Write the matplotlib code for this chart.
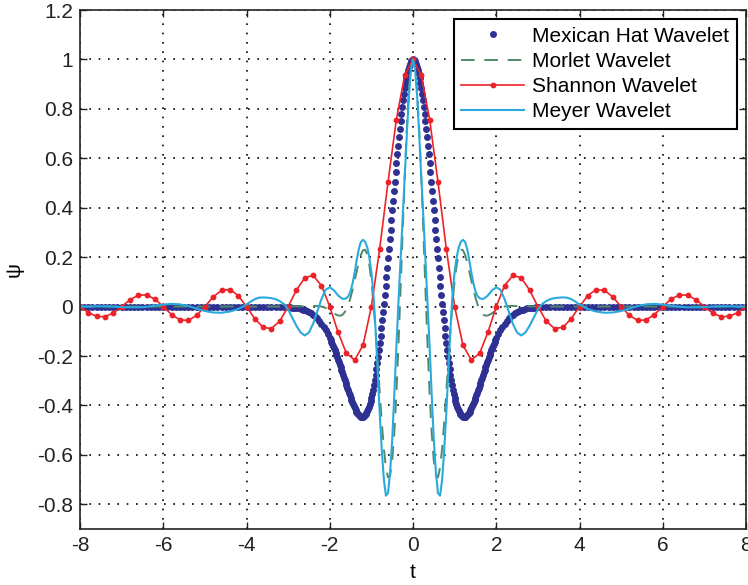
import numpy as np
import matplotlib
matplotlib.use("Agg")
import matplotlib.pyplot as plt

plt.rcParams["font.family"] = ["Liberation Sans", "DejaVu Sans"]
plt.rcParams["axes.unicode_minus"] = False

# === Data ===

# Mexican hat: sample grid and values
mexhat_t = np.concatenate([
    np.linspace(-8, -3.1, 50), np.linspace(-3, -2.05, 20), np.linspace(-2, 2, 201),
    np.linspace(2.05, 3, 20), np.linspace(3.1, 8, 50),
])
mexhat_psi = [
    0.0, 0.0, 0.0, 0.0, 0.0, 0.0, 0.0, 0.0, 0.0, 0.0,
    0.0, 0.0, 0.0, 0.0, 0.0, 0.0, 0.0, 0.0, 0.0, 0.0,
    0.0, 0.0, 0.0, 0.0, 0.0, 0.0, 0.0, 0.0, 0.0, 0.0,
    0.0, 0.0, 0.0, 0.0, 0.0, 0.0, 0.0, 0.0, 0.0, 0.0,
    0.0, 0.0, 0.0, 0.0, 0.0, 0.0, 0.0, 0.0, -0.001, -0.001,
    -0.002, -0.003, -0.004, -0.005, -0.006, -0.007, -0.009, -0.012, -0.015, -0.018,
    -0.022, -0.027, -0.033, -0.040, -0.048, -0.058, -0.069, -0.081, -0.095, -0.111,
    -0.128, -0.136, -0.143, -0.151, -0.160, -0.168, -0.177, -0.186, -0.195, -0.205,
    -0.215, -0.225, -0.235, -0.245, -0.255, -0.266, -0.276, -0.287, -0.297, -0.308,
    -0.319, -0.329, -0.339, -0.349, -0.359, -0.369, -0.378, -0.387, -0.396, -0.404,
    -0.411, -0.418, -0.425, -0.430, -0.435, -0.439, -0.442, -0.445, -0.446, -0.446,
    -0.445, -0.444, -0.440, -0.436, -0.430, -0.423, -0.415, -0.406, -0.394, -0.382,
    -0.368, -0.352, -0.336, -0.317, -0.297, -0.276, -0.253, -0.229, -0.203, -0.176,
    -0.148, -0.118, -0.087, -0.055, -0.022, 0.012, 0.047, 0.083, 0.120, 0.157,
    0.195, 0.234, 0.272, 0.311, 0.350, 0.389, 0.428, 0.467, 0.505, 0.543,
    0.580, 0.616, 0.651, 0.685, 0.718, 0.749, 0.780, 0.808, 0.835, 0.861,
    0.884, 0.905, 0.925, 0.942, 0.957, 0.970, 0.981, 0.989, 0.995, 0.999,
    1.000,
    0.999, 0.995, 0.989, 0.981, 0.970, 0.957, 0.942, 0.925, 0.905, 0.884,
    0.861, 0.835, 0.808, 0.780, 0.749, 0.718, 0.685, 0.651, 0.616, 0.580,
    0.543, 0.505, 0.467, 0.428, 0.389, 0.350, 0.311, 0.272, 0.234, 0.195,
    0.157, 0.120, 0.083, 0.047, 0.012, -0.022, -0.055, -0.087, -0.118, -0.148,
    -0.176, -0.203, -0.229, -0.253, -0.276, -0.297, -0.317, -0.336, -0.352, -0.368,
    -0.382, -0.394, -0.406, -0.415, -0.423, -0.430, -0.436, -0.440, -0.444, -0.445,
    -0.446, -0.446, -0.445, -0.442, -0.439, -0.435, -0.430, -0.425, -0.418, -0.411,
    -0.404, -0.396, -0.387, -0.378, -0.369, -0.359, -0.349, -0.339, -0.329, -0.319,
    -0.308, -0.297, -0.287, -0.276, -0.266, -0.255, -0.245, -0.235, -0.225, -0.215,
    -0.205, -0.195, -0.186, -0.177, -0.168, -0.160, -0.151, -0.143, -0.136, -0.128,
    -0.111, -0.095, -0.081, -0.069, -0.058, -0.048, -0.040, -0.033, -0.027, -0.022,
    -0.018, -0.015, -0.012, -0.009, -0.007, -0.006, -0.005, -0.004, -0.003, -0.002,
    -0.001, -0.001, 0.0, 0.0, 0.0, 0.0, 0.0, 0.0, 0.0, 0.0,
    0.0, 0.0, 0.0, 0.0, 0.0, 0.0, 0.0, 0.0, 0.0, 0.0,
    0.0, 0.0, 0.0, 0.0, 0.0, 0.0, 0.0, 0.0, 0.0, 0.0,
    0.0, 0.0, 0.0, 0.0, 0.0, 0.0, 0.0, 0.0, 0.0, 0.0,
    0.0, 0.0, 0.0, 0.0, 0.0, 0.0, 0.0, 0.0, 0.0, 0.0,
]

# Morlet
morlet_t = np.concatenate([
    np.linspace(-8, -2.5, 12), np.linspace(-2.45, 2.45, 99), np.linspace(2.5, 8, 12),
])
morlet_psi = [
    0.0, 0.0, 0.0, 0.0, 0.0, 0.0, 0.0, 0.0, 0.0, 0.0, 0.0, 0.002,
    0.002, 0.003, 0.003, 0.002, 0.002, 0.000, -0.002, -0.006, -0.010,
    -0.015, -0.021, -0.027, -0.032, -0.036, -0.037, -0.034, -0.025, -0.011, 0.009,
    0.037, 0.069, 0.106, 0.144, 0.180, 0.210, 0.228, 0.230, 0.211, 0.170,
    0.104, 0.015, -0.094, -0.217, -0.345, -0.468, -0.574, -0.652, -0.691, -0.683,
    -0.624, -0.513, -0.355, -0.158, 0.065, 0.296, 0.519, 0.716, 0.869, 0.967,
    1.000,
    0.967, 0.869, 0.716, 0.519, 0.296, 0.065, -0.158, -0.355, -0.513, -0.624,
    -0.683, -0.691, -0.652, -0.574, -0.468, -0.345, -0.217, -0.094, 0.015, 0.104,
    0.170, 0.211, 0.230, 0.228, 0.210, 0.180, 0.144, 0.106, 0.069, 0.037,
    0.009, -0.011, -0.025, -0.034, -0.037, -0.036, -0.032, -0.027, -0.021, -0.015,
    -0.010, -0.006, -0.002, 0.000, 0.002, 0.002, 0.003, 0.003, 0.002,
    0.002, 0.0, 0.0, 0.0, 0.0, 0.0, 0.0, 0.0, 0.0, 0.0, 0.0, 0.0,
]

# Shannon (markers every 0.2)
shannon_t = np.linspace(-8, 8, 81)
shannon_psi = [
    0.0, -0.0240, -0.0398, -0.0409, -0.0260, 0.0, 0.0275, 0.0459, 0.0473, 0.0302,
    0.0, -0.0323, -0.0541, -0.0561, -0.0360, 0.0, 0.0390, 0.0658, 0.0688, 0.0445,
    0.0, -0.0492, -0.0841, -0.0890, -0.0585, 0.0, 0.0668, 0.1164, 0.1261, 0.0850,
    0.0, -0.1039, -0.1892, -0.2162, -0.1559, 0.0, 0.2339, 0.5046, 0.7568, 0.9355,
    1.0,
    0.9355, 0.7568, 0.5046, 0.2339, 0.0, -0.1559, -0.2162, -0.1892, -0.1039, 0.0,
    0.0850, 0.1261, 0.1164, 0.0668, 0.0, -0.0585, -0.0890, -0.0841, -0.0492, 0.0,
    0.0445, 0.0688, 0.0658, 0.0390, 0.0, -0.0360, -0.0561, -0.0541, -0.0323, 0.0,
    0.0302, 0.0473, 0.0459, 0.0275, 0.0, -0.0260, -0.0409, -0.0398, -0.0240, 0.0,
]

# Meyer
meyer_t = np.concatenate([
    np.linspace(-8, -4.2, 20), np.linspace(-4.0, -1.7, 24), np.linspace(-1.65, 1.65, 67),
    np.linspace(1.7, 4.0, 24), np.linspace(4.2, 8, 20),
])
meyer_psi = [
    0.000, 0.000, 0.001, 0.001, 0.000, -0.002, -0.003, -0.003, -0.001, 0.003,
    0.008, 0.011, 0.009, 0.002, -0.008, -0.018, -0.024, -0.025, -0.020, -0.010,
    0.008, 0.020, 0.030, 0.036, 0.037, 0.036, 0.034, 0.030, 0.022, 0.010,
    -0.012, -0.045, -0.078, -0.105, -0.117, -0.105, -0.070, -0.020, 0.030, 0.068,
    0.078, 0.066, 0.045, 0.032,
    0.031, 0.034, 0.043,
    0.062, 0.095, 0.140, 0.190, 0.235, 0.262, 0.270, 0.262, 0.240, 0.200,
    0.140, 0.050, -0.090, -0.260, -0.430, -0.580, -0.700, -0.765, -0.755, -0.670,
    -0.540, -0.360, -0.165, 0.015, 0.185, 0.360, 0.520, 0.690, 0.850, 0.960,
    1.000,
    0.960, 0.850, 0.690, 0.520, 0.360, 0.185, 0.015, -0.165, -0.360, -0.540,
    -0.670, -0.755, -0.765, -0.700, -0.580, -0.430, -0.260, -0.090, 0.050, 0.140,
    0.200, 0.240, 0.262, 0.270, 0.262, 0.235, 0.190, 0.140, 0.095, 0.062,
    0.043, 0.034, 0.031,
    0.032, 0.045, 0.066, 0.078, 0.068, 0.030, -0.020, -0.070, -0.105, -0.117,
    -0.105, -0.078, -0.045, -0.012, 0.010, 0.022, 0.030, 0.034, 0.036, 0.037,
    0.036, 0.030, 0.020, 0.008,
    -0.010, -0.020, -0.025, -0.024, -0.018, -0.008, 0.002, 0.009, 0.011, 0.008,
    0.003, -0.001, -0.003, -0.003, -0.002, 0.000, 0.001, 0.001, 0.000, 0.000,
]

xticks = [-8, -6, -4, -2, 0, 2, 4, 6, 8]
xtick_labels = ["-8", "-6", "-4", "-2", "0", "2", "4", "6", "8"]
yticks = [-0.8, -0.6, -0.4, -0.2, 0, 0.2, 0.4, 0.6, 0.8, 1.0, 1.2]
ytick_labels = ["-0.8", "-0.6", "-0.4", "-0.2", "0", "0.2", "0.4", "0.6", "0.8", "1", "1.2"]

# === Figure ===

fig = plt.figure(figsize=(7.48, 5.85), dpi=100)
ax = fig.add_axes([80 / 748, 56 / 585, 666 / 748, 519 / 585])

ax.plot(mexhat_t, mexhat_psi, linestyle="none", marker="o", markersize=5.0,
        markeredgewidth=0, color="#2e3192", label="Mexican Hat Wavelet")
ax.plot(morlet_t, morlet_psi, linestyle=(0, (7, 5)), linewidth=1.4,
        color="#4e8a6a", label="Morlet Wavelet")
ax.plot(shannon_t, shannon_psi, linestyle="-", linewidth=1.2, marker="o",
        markersize=4.2, markeredgewidth=0, color="#ed2228", label="Shannon Wavelet")
ax.plot(meyer_t, meyer_psi, linestyle="-", linewidth=1.5, color="#29a9dc",
        label="Meyer Wavelet")

ax.set_xlim(-8, 8)
ax.set_ylim(-0.9, 1.2)
ax.set_xticks(xticks)
ax.set_xticklabels(xtick_labels)
ax.set_yticks(yticks)
ax.set_yticklabels(ytick_labels)
ax.tick_params(direction="in", top=True, right=True, length=5, width=1.0,
               labelsize=15, pad=5, colors="#222222")
ax.grid(True, color="black", linestyle=(0, (1, 4.6)), linewidth=1.2)
for sp in ax.spines.values():
    sp.set_linewidth(1.2)
    sp.set_color("#222222")

ax.set_xlabel("t", fontsize=15, labelpad=6)
ax.set_ylabel("ψ", fontsize=15, labelpad=10)

leg = ax.legend(loc="upper right", fontsize=15, numpoints=1, handlelength=3.0,
                handletextpad=0.4, labelspacing=0.3, borderpad=0.35,
                borderaxespad=0.45, fancybox=False, framealpha=1, edgecolor="black")
leg.get_frame().set_linewidth(1.5)

fig.savefig("out.png", dpi=100)
